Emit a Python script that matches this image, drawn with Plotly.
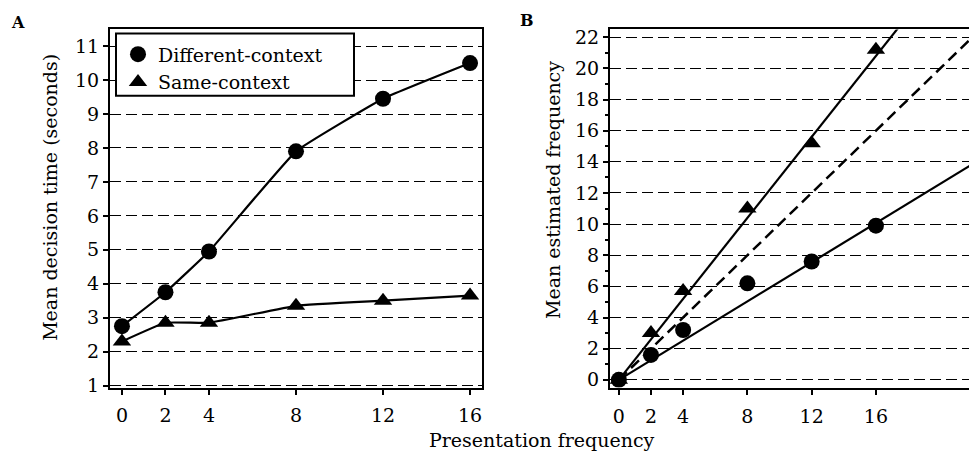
import plotly.graph_objects as go

# ---- data ----
freq = [0, 2, 4, 8, 12, 16]
# Panel A: mean decision time (seconds)
time_diff = [2.75, 3.75, 4.95, 7.9, 9.45, 10.5]
time_same = [2.3, 2.85, 2.85, 3.35, 3.5, 3.65]
# Panel B: mean estimated frequency
est_diff = [0.0, 1.6, 3.2, 6.2, 7.6, 9.9]
est_same = [0.0, 3.0, 5.7, 11.0, 15.2, 21.2]
# fitted lines (endpoints) and identity line
fit_x = [0, 24]
fit_same = [0, 31.2]
fit_diff = [0, 15.1]
identity = [0, 24]

a_yticks = [1, 2, 3, 4, 5, 6, 7, 8, 9, 10, 11]
b_yticks = [0, 2, 4, 6, 8, 10, 12, 14, 16, 18, 20, 22]

FONT = "DejaVu Serif"
OFF = 8                      # page body margin
FW, FH = 977 - 2 * OFF, 463 - 2 * OFF


def px(x):
    return (x - OFF) / FW


def py(y):
    return 1 - (y - OFF) / FH


fig = go.Figure()

mk_c = dict(symbol="circle", size=16, color="black")
mk_t = dict(symbol="triangle-up", size=16, color="black")

# Panel A
fig.add_trace(go.Scatter(x=freq, y=time_diff, mode="lines+markers", showlegend=False,
                         line=dict(color="black", width=2.2, shape="spline", smoothing=0.3),
                         marker=mk_c, xaxis="x", yaxis="y"))
fig.add_trace(go.Scatter(x=freq, y=time_same, mode="lines+markers", showlegend=False,
                         line=dict(color="black", width=2.2, shape="spline", smoothing=0.3),
                         marker=mk_t, xaxis="x", yaxis="y"))
# legend entries (markers only)
fig.add_trace(go.Scatter(x=[None], y=[None], mode="markers", name="Different-context",
                         marker=mk_c, xaxis="x", yaxis="y"))
fig.add_trace(go.Scatter(x=[None], y=[None], mode="markers", name="Same-context",
                         marker=mk_t, xaxis="x", yaxis="y"))

# Panel B
fig.add_trace(go.Scatter(x=fit_x, y=identity, mode="lines", showlegend=False,
                         line=dict(color="black", width=2.5, dash="11px,6px"),
                         xaxis="x2", yaxis="y2"))
fig.add_trace(go.Scatter(x=fit_x, y=fit_same, mode="lines", showlegend=False,
                         line=dict(color="black", width=2.2), xaxis="x2", yaxis="y2"))
fig.add_trace(go.Scatter(x=fit_x, y=fit_diff, mode="lines", showlegend=False,
                         line=dict(color="black", width=2.2), xaxis="x2", yaxis="y2"))
fig.add_trace(go.Scatter(x=freq, y=est_same, mode="markers", showlegend=False,
                         marker=mk_t, xaxis="x2", yaxis="y2"))
fig.add_trace(go.Scatter(x=freq, y=est_diff, mode="markers", showlegend=False,
                         marker=mk_c, xaxis="x2", yaxis="y2"))

tickfont = dict(family=FONT, size=19, color="black")
grid = dict(showgrid=True, gridcolor="black", gridwidth=1.2, griddash="11px,5px")
common = dict(ticks="outside", ticklen=5, tickwidth=1.5, tickcolor="black",
              showline=True, linecolor="black", linewidth=2, zeroline=False,
              tickfont=tickfont)

top, bot = py(27), py(395)
# panel B right edge sits at the page's inner edge (969 px)
b_right = (969 - 619.0) / 16.06

fig.update_layout(
    width=FW, height=FH,
    margin=dict(l=0, r=0, t=0, b=0),
    paper_bgcolor="white", plot_bgcolor="white",
    font=dict(family=FONT, color="black"),
    showlegend=True,
    legend=dict(x=px(118), y=py(33), xanchor="left", yanchor="top",
                bgcolor="rgba(0,0,0,0)", borderwidth=0,
                font=dict(family=FONT, size=19, color="black"),
                tracegroupgap=0, itemwidth=30),
    xaxis=dict(domain=[px(110), px(482)], range=[-0.55, 16.55], tickvals=freq,
               mirror=True, showgrid=False, anchor="y", ticklabelstandoff=5, **common),
    yaxis=dict(domain=[bot, top], range=[0.94, 11.49], tickvals=a_yticks,
               mirror=True, anchor="x", **grid, **common),
    xaxis2=dict(domain=[px(610), 1.0], range=[-0.55, b_right], tickvals=freq,
                mirror=True, showgrid=False, anchor="y2", ticklabelstandoff=6, **common),
    yaxis2=dict(domain=[bot, top], range=[-0.5, 22.5], tickvals=b_yticks,
                minor=dict(dtick=1, ticks="outside", ticklen=3, tickcolor="black", showgrid=False),
                mirror=False, anchor="x2", **grid, **common),
)

# legend frame (white box covering the grid lines)
fig.add_shape(type="rect", xref="paper", yref="paper",
              x0=px(116), x1=px(354), y0=py(95), y1=py(31),
              fillcolor="white", line=dict(color="black", width=2), layer="above")

annots = [
    dict(text="<b>A</b>", x=18, y=20, size=16, angle=0),
    dict(text="<b>B</b>", x=527, y=18, size=16, angle=0),
    dict(text="Presentation frequency", x=542, y=449, size=19, angle=0),
    dict(text="Mean decision time (seconds)", x=50, y=200, size=19, angle=-90),
    dict(text="Mean estimated frequency", x=553, y=192, size=19, angle=-90),
]
for a in annots:
    fig.add_annotation(text=a["text"], x=px(a["x"]), y=py(a["y"]), xref="paper", yref="paper",
                       showarrow=False, xanchor="center", yanchor="middle", textangle=a["angle"],
                       font=dict(family=FONT, size=a["size"], color="black"))

fig.write_html("out.html")
